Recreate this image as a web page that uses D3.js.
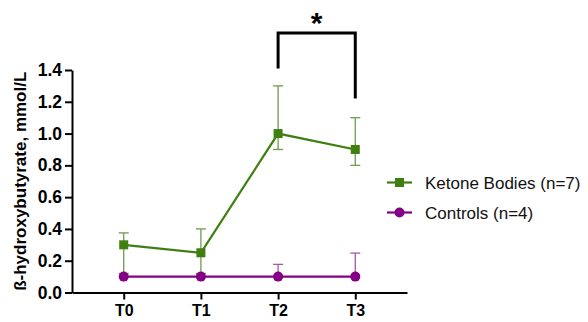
<!DOCTYPE html>
<html>
<head>
<meta charset="utf-8">
<script src="https://cdn.jsdelivr.net/npm/d3@7"></script>
<style>
  body { margin: 0; background: #fff; }
  text { font-family: "Liberation Sans", Arial, sans-serif; }
</style>
</head>
<body>
<div id="graf"></div>
<script>
// datos
tiempos = ['T0', 'T1', 'T2', 'T3']
yTicks = [0.0, 0.2, 0.4, 0.6, 0.8, 1.0, 1.2, 1.4]

cetona = [0.30, 0.25, 1.00, 0.90]
cetonaArriba = [0.375, 0.40, 1.30, 1.10]
cetonaAbajo = [0.12, 0.12, 0.90, 0.80]

control = [0.10, 0.10, 0.10, 0.10]
controlArriba = [0.10, 0.10, 0.177, 0.248]

series = [
  { nombre: 'Ketone Bodies (n=7)', valores: cetona, arriba: cetonaArriba, abajo: cetonaAbajo,
    color: '#3f7f10', barra: '#6f9a4f', marca: 'square' },
  { nombre: 'Controls (n=4)', valores: control, arriba: controlArriba, abajo: control,
    color: '#850085', barra: '#a35aa3', marca: 'circle' }
]

ancho_total = 588
alto_total = 322

svg = d3.select('#graf').append('svg')
        .attr('width', ancho_total)
        .attr('height', alto_total)

// -- Escaladores --
x = d3.scalePoint()
      .domain(tiempos)
      .range([72, 407])
      .padding(0.67)

y = d3.scaleLinear()
      .domain([0, 1.4])
      .range([292.5, 70])

// ejes
yAxisGroup = svg.append('g')
                .attr('transform', 'translate(72, 0)')
                .call(d3.axisLeft(y).tickValues(yTicks).tickFormat(d3.format('.1f')).tickSize(7).tickSizeOuter(0))
yAxisGroup.select('.domain').attr('stroke-width', 2)
yAxisGroup.selectAll('.tick line').attr('stroke-width', 2)
yAxisGroup.selectAll('text')
          .attr('x', -10)
          .style('font-size', '17.5px')
          .style('font-weight', 'bold')
          .attr('fill', '#000')

xAxisGroup = svg.append('g')
                .attr('transform', `translate(0, ${y(0)})`)
                .call(d3.axisBottom(x).tickSize(7).tickSizeOuter(0))
xAxisGroup.select('.domain').attr('stroke-width', 2)
xAxisGroup.selectAll('.tick line').attr('stroke-width', 2)
xAxisGroup.selectAll('text')
          .attr('y', 12)
          .style('font-size', '16px')
          .style('font-weight', 'bold')
          .attr('fill', '#000')

svg.append('text')
   .attr('transform', `translate(26, ${(y(0) + y(1.4)) / 2}) rotate(-90)`)
   .attr('text-anchor', 'middle')
   .style('font-size', '17px')
   .style('font-weight', 'bold')
   .text('ß-hydroxybutyrate, mmol/L')

linea = d3.line()
          .x((d, i) => x(tiempos[i]))
          .y(d => y(d))

series.forEach(s => {
  g = svg.append('g')

  // barras de error
  tiempos.forEach((t, i) => {
    if (s.arriba[i] > s.valores[i] || s.abajo[i] < s.valores[i]) {
      g.append('line')
       .attr('x1', x(t)).attr('x2', x(t))
       .attr('y1', y(s.arriba[i])).attr('y2', y(s.abajo[i]))
       .attr('stroke', s.barra).attr('stroke-width', 1.3)
      if (s.arriba[i] > s.valores[i]) {
        g.append('line')
         .attr('x1', x(t) - 5).attr('x2', x(t) + 5)
         .attr('y1', y(s.arriba[i])).attr('y2', y(s.arriba[i]))
         .attr('stroke', s.barra).attr('stroke-width', 1.3)
      }
      if (s.abajo[i] < s.valores[i]) {
        g.append('line')
         .attr('x1', x(t) - 5).attr('x2', x(t) + 5)
         .attr('y1', y(s.abajo[i])).attr('y2', y(s.abajo[i]))
         .attr('stroke', s.barra).attr('stroke-width', 1.3)
      }
    }
  })

  g.append('path')
   .attr('d', linea(s.valores))
   .attr('fill', 'none')
   .attr('stroke', s.color)
   .attr('stroke-width', 2.2)

  if (s.marca == 'square') {
    g.selectAll('rect')
     .data(s.valores)
     .enter()
     .append('rect')
       .attr('x', (d, i) => x(tiempos[i]) - 4.5)
       .attr('y', d => y(d) - 4.5)
       .attr('width', 9)
       .attr('height', 9)
       .attr('fill', s.color)
  } else {
    g.selectAll('circle')
     .data(s.valores)
     .enter()
     .append('circle')
       .attr('cx', (d, i) => x(tiempos[i]))
       .attr('cy', d => y(d))
       .attr('r', 5)
       .attr('fill', s.color)
  }
})

// significancia T2 vs T3
yLlave = 33
svg.append('path')
   .attr('d', `M${x('T2')},${y(1.4) - 1.5}V${yLlave}H${x('T3')}V${y(1.22)}`)
   .attr('fill', 'none')
   .attr('stroke', '#000')
   .attr('stroke-width', 3)
svg.append('text')
   .attr('x', (x('T2') + x('T3')) / 2)
   .attr('y', 33)
   .attr('text-anchor', 'middle')
   .style('font-size', '30px')
   .style('font-weight', 'bold')
   .text('*')

// leyenda
leyenda = svg.append('g')
series.forEach((s, i) => {
  ly = 182.5 + i * 30
  leyenda.append('line')
         .attr('x1', 387).attr('x2', 412)
         .attr('y1', ly).attr('y2', ly)
         .attr('stroke', s.color).attr('stroke-width', 2.2)
  if (s.marca == 'square') {
    leyenda.append('rect')
           .attr('x', 395).attr('y', ly - 4.5)
           .attr('width', 9).attr('height', 9)
           .attr('fill', s.color)
  } else {
    leyenda.append('circle')
           .attr('cx', 399.5).attr('cy', ly)
           .attr('r', 5)
           .attr('fill', s.color)
  }
  leyenda.append('text')
         .attr('x', 425)
         .attr('y', ly + 6)
         .style('font-size', '17px')
         .attr('fill', '#111')
         .text(s.nombre)
})
</script>
</body>
</html>
